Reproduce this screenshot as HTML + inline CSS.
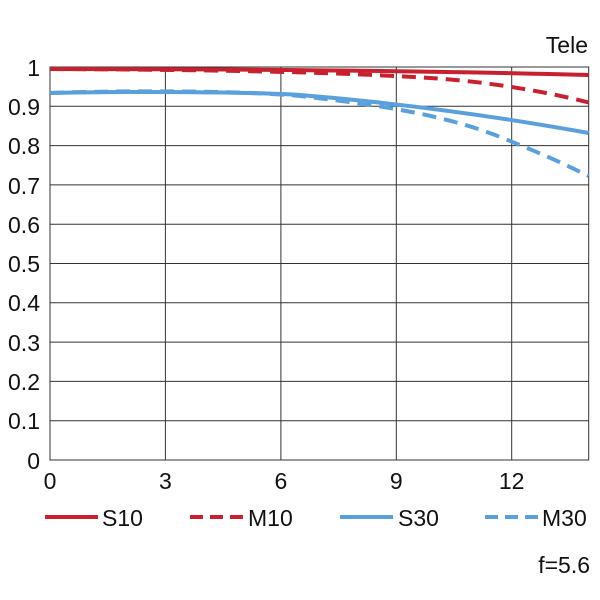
<!DOCTYPE html>
<html><head><style>
body{margin:0;background:#fff;}
svg{display:block;font-family:"Liberation Sans","DejaVu Sans",sans-serif;}
</style></head><body>
<svg width="600" height="600" viewBox="0 0 600 600">
<rect width="600" height="600" fill="#fff"/>
<g stroke="#333" stroke-width="1" fill="none">
<rect x="50" y="67" width="538.7" height="393"/>
<line x1="165.4" y1="67" x2="165.4" y2="460"/>
<line x1="280.9" y1="67" x2="280.9" y2="460"/>
<line x1="396.3" y1="67" x2="396.3" y2="460"/>
<line x1="511.7" y1="67" x2="511.7" y2="460"/>
<line x1="50" y1="106.3" x2="588.7" y2="106.3"/>
<line x1="50" y1="145.6" x2="588.7" y2="145.6"/>
<line x1="50" y1="184.9" x2="588.7" y2="184.9"/>
<line x1="50" y1="224.2" x2="588.7" y2="224.2"/>
<line x1="50" y1="263.5" x2="588.7" y2="263.5"/>
<line x1="50" y1="302.8" x2="588.7" y2="302.8"/>
<line x1="50" y1="342.1" x2="588.7" y2="342.1"/>
<line x1="50" y1="381.4" x2="588.7" y2="381.4"/>
<line x1="50" y1="420.7" x2="588.7" y2="420.7"/>
</g>
<g fill="none" stroke-width="4">
<path d="M50,69 C200,69 400,70 588.7,75" stroke="#c8202e"/>
<path d="M50,69 C250,70 350,73 430,78 C480,81 540,90 588.7,102.5" stroke="#c8202e" stroke-dasharray="14,8"/>
<path d="M50,93 C130,91 250,92 300,95 C400,103 500,117 588.7,133" stroke="#5aa0dc"/>
<path d="M50,93 C130,90 250,91 300,96 C380,105 450,115 511.7,141.7 C550,157 570,167 588.7,176" stroke="#5aa0dc" stroke-dasharray="14,8"/>
</g>
<g font-size="23" fill="#111" text-anchor="end">
<text x="40" y="76">1</text>
<text x="40" y="115">0.9</text>
<text x="40" y="154">0.8</text>
<text x="40" y="194">0.7</text>
<text x="40" y="233">0.6</text>
<text x="40" y="272">0.5</text>
<text x="40" y="311">0.4</text>
<text x="40" y="351">0.3</text>
<text x="40" y="390">0.2</text>
<text x="40" y="429">0.1</text>
<text x="40" y="469">0</text>
<text x="588" y="53">Tele</text>
<text x="590" y="573">f=5.6</text>
</g>
<g font-size="23" fill="#111" text-anchor="middle">
<text x="50" y="489">0</text>
<text x="165.4" y="489">3</text>
<text x="280.9" y="489">6</text>
<text x="396.3" y="489">9</text>
<text x="511.7" y="489">12</text>
</g>
<g stroke-width="4">
<line x1="45" y1="517" x2="98" y2="517" stroke="#c8202e"/>
<line x1="190" y1="517" x2="243" y2="517" stroke="#c8202e" stroke-dasharray="13,7"/>
<line x1="340" y1="517" x2="393" y2="517" stroke="#5aa0dc"/>
<line x1="485" y1="517" x2="538" y2="517" stroke="#5aa0dc" stroke-dasharray="13,7"/>
</g>
<g font-size="23" fill="#111">
<text x="102" y="526">S10</text>
<text x="248" y="526">M10</text>
<text x="398" y="526">S30</text>
<text x="542" y="526">M30</text>
</g>
</svg>
</body></html>
